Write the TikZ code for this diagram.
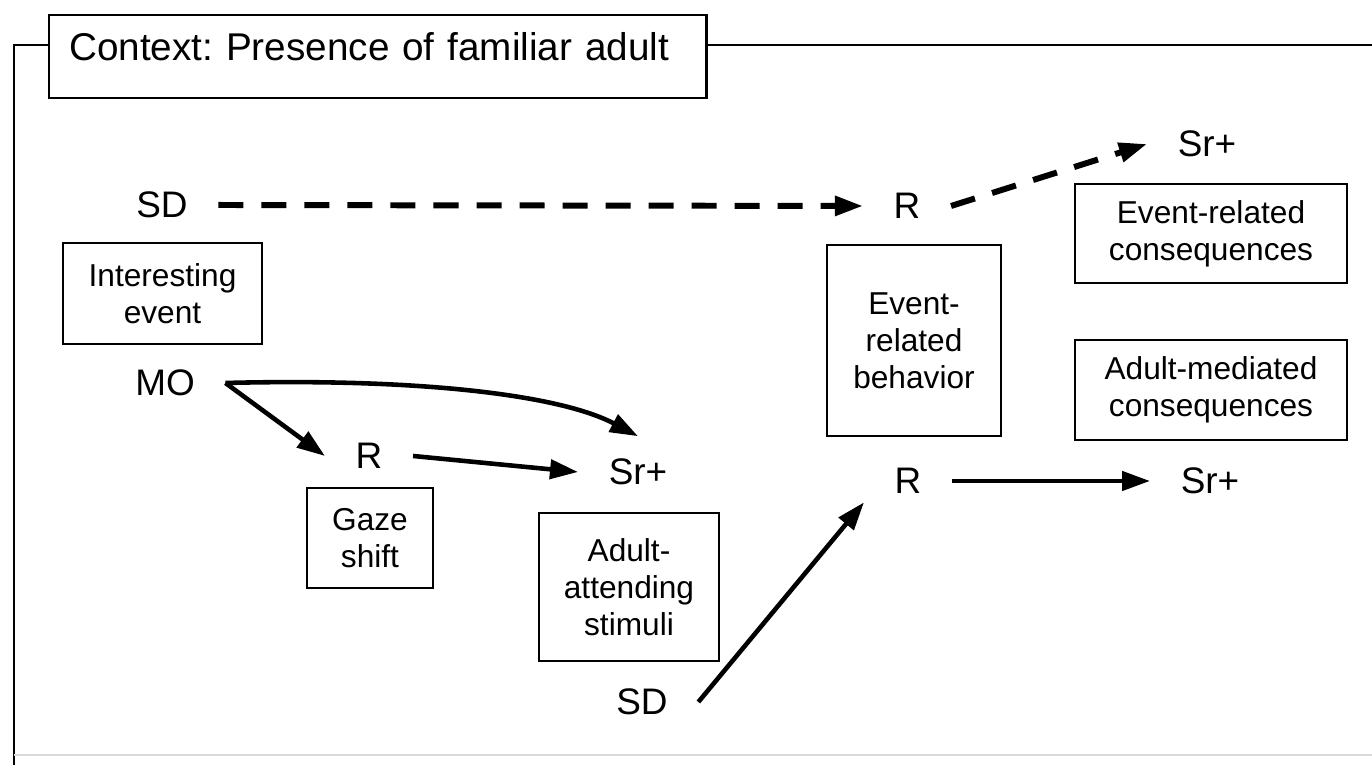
\documentclass[tikz,border=0pt]{standalone}
\usepackage{fontspec}
\setmainfont{Liberation Sans}
\usetikzlibrary{arrows.meta}
\frenchspacing

\tikzset{
  term/.style={inner xsep=0.3cm, inner ysep=0.08cm, font=\fontsize{10.5}{12}\selectfont},
  box/.style={draw, line width=0.7pt, align=center, inner sep=0pt, font=\fontsize{9}{10.5}\selectfont},
  link/.style={line width=1.3pt, -{Triangle[length=2.8mm,width=1.9mm]}},
  dashlink/.style={link, line width=1.7pt, dash pattern=on 2.5mm off 1.8mm},
}

\begin{document}
\begin{tikzpicture}[x=0.01cm, y=-0.01cm]
  \useasboundingbox (0,0) rectangle (1372,765);

  % context frame
  \node[draw, line width=0.7pt, anchor=north west, inner xsep=0.2cm, inner ysep=0pt,
        text width=6.17cm, text height=0.45cm, text depth=0.38cm,
        font=\fontsize{11}{13}\selectfont] (context) at (48,14) {Context: Presence of familiar adult};
  \coordinate (corner) at (14,45);
  \draw[line width=0.8pt] (context.west |- corner) -- (corner) -- (14,765);
  \draw[line width=0.8pt] (context.east |- corner) -- (1372,45);
  \draw[gray!30, line width=0.6pt] (14,755) -- (1372,755);

  % terms
  \node[term] (sdTop) at (162,205) {SD};
  \node[term] (rTop) at (907,206) {R};
  \node[term] (srTop) at (1207,144) {Sr+};
  \node[term] (mo) at (165,383) {MO};
  \node[term] (rGaze) at (369,456) {R};
  \node[term] (srAdult) at (638,472) {Sr+};
  \node[term] (sdBottom) at (642,702) {SD};
  \node[term] (rBottom) at (908,481) {R};
  \node[term] (srBottom) at (1210,481) {Sr+};

  % boxes
  \node[box, minimum width=1.99cm, minimum height=1.01cm] (interesting) at (162.5,293.5) {Interesting\\event};
  \node[box, minimum width=1.26cm, minimum height=1.00cm] (gaze) at (370,538) {Gaze\\shift};
  \node[box, minimum width=1.80cm, minimum height=1.48cm] (attending) at (629,587) {Adult-\\attending\\stimuli};
  \node[box, minimum width=1.74cm, minimum height=1.91cm] (behavior) at (914,340.5) {Event-\\related\\behavior};
  \node[box, minimum width=2.72cm, minimum height=0.99cm] (eventCons) at (1211,233.5) {Event-related\\consequences};
  \node[box, minimum width=2.72cm, minimum height=1.00cm] (adultCons) at (1211,390) {Adult-mediated\\consequences};

  % connectors
  \draw[dashlink] (sdTop.east) -- (rTop.west);
  \draw[dashlink] (rTop.east) -- (srTop.west);
  \draw[link] (mo.east) -- (rGaze.west);
  \draw[link] (mo.east) .. controls (420,378) and (560,395) .. ([yshift=0.14cm]srAdult.north);
  \draw[link] (rGaze.east) -- (srAdult.west);
  \draw[link] (sdBottom.east) -- (rBottom.south west);
  \draw[link] (rBottom.east) -- (srBottom.west);
\end{tikzpicture}
\end{document}
